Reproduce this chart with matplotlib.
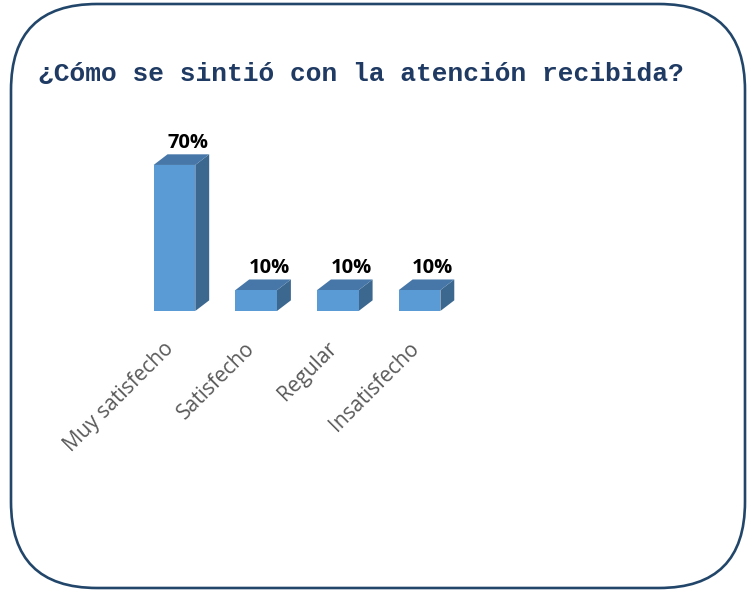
import matplotlib
matplotlib.use("Agg")
import matplotlib.pyplot as plt
from matplotlib.patches import Polygon, FancyBboxPatch

# survey results
categories = ["Muy satisfecho", "Satisfecho", "Regular", "Insatisfecho"]
percentages = [70, 10, 10, 10]
value_labels = ["70%", "10%", "10%", "10%"]
title = "¿Cómo se sintió con la atención recibida?"

front_color = "#5B9BD5"
top_color = "#4677A8"
side_color = "#3C6890"

fig = plt.figure(figsize=(7.49, 5.92), dpi=100)
fig.patch.set_facecolor("white")

# rounded frame around the whole chart, drawn in pixel units
frame_ax = fig.add_axes([0, 0, 1, 1])
frame_ax.set_xlim(0, 749)
frame_ax.set_ylim(0, 592)
frame_ax.axis("off")
frame_ax.add_patch(FancyBboxPatch((11, 4), 734, 584,
                                  boxstyle="round,pad=0,rounding_size=86",
                                  facecolor="white", edgecolor="#22466A",
                                  linewidth=1.9))

fig.text(38 / 749, 1 - 81 / 592, title, family="Liberation Mono",
         weight="bold", fontsize=18.9, color="#1F3A63", va="baseline")

ax = fig.add_axes([0.1784, 0.4747, 0.4363, 0.2819])
ax.set_xlim(-0.5, 3.5)
ax.set_ylim(0, 80)
ax.axis("off")

width = 0.51
depth_x = 0.17
depth_y = 5.1

for i, v in enumerate(percentages):
    x0 = i - width / 2
    x1 = i + width / 2
    # side face
    ax.add_patch(Polygon([(x1, 0), (x1 + depth_x, depth_y),
                          (x1 + depth_x, v + depth_y), (x1, v)],
                         closed=True, facecolor=side_color, edgecolor="none",
                         clip_on=False))
    # top face
    ax.add_patch(Polygon([(x0, v), (x1, v), (x1 + depth_x, v + depth_y),
                          (x0 + depth_x, v + depth_y)],
                         closed=True, facecolor=top_color, edgecolor="none",
                         clip_on=False))

ax.bar(range(len(categories)), percentages, width=width, color=front_color,
       clip_on=False, zorder=3)

for i, (v, lab) in enumerate(zip(percentages, value_labels)):
    ax.annotate(lab, (i + 0.16, v), xytext=(0, 12), textcoords="offset points",
                ha="center", va="baseline", family="Open Sans",
                weight="bold", fontsize=14.5, color="black",
                annotation_clip=False)

for i, cat in enumerate(categories):
    ax.annotate(cat, (i, 0), xytext=(-3, -25), textcoords="offset points",
                ha="right", va="center", rotation=45, rotation_mode="anchor",
                family="Open Sans", fontsize=15, color="#595959",
                annotation_clip=False)

fig.savefig("out.png", dpi=100)
